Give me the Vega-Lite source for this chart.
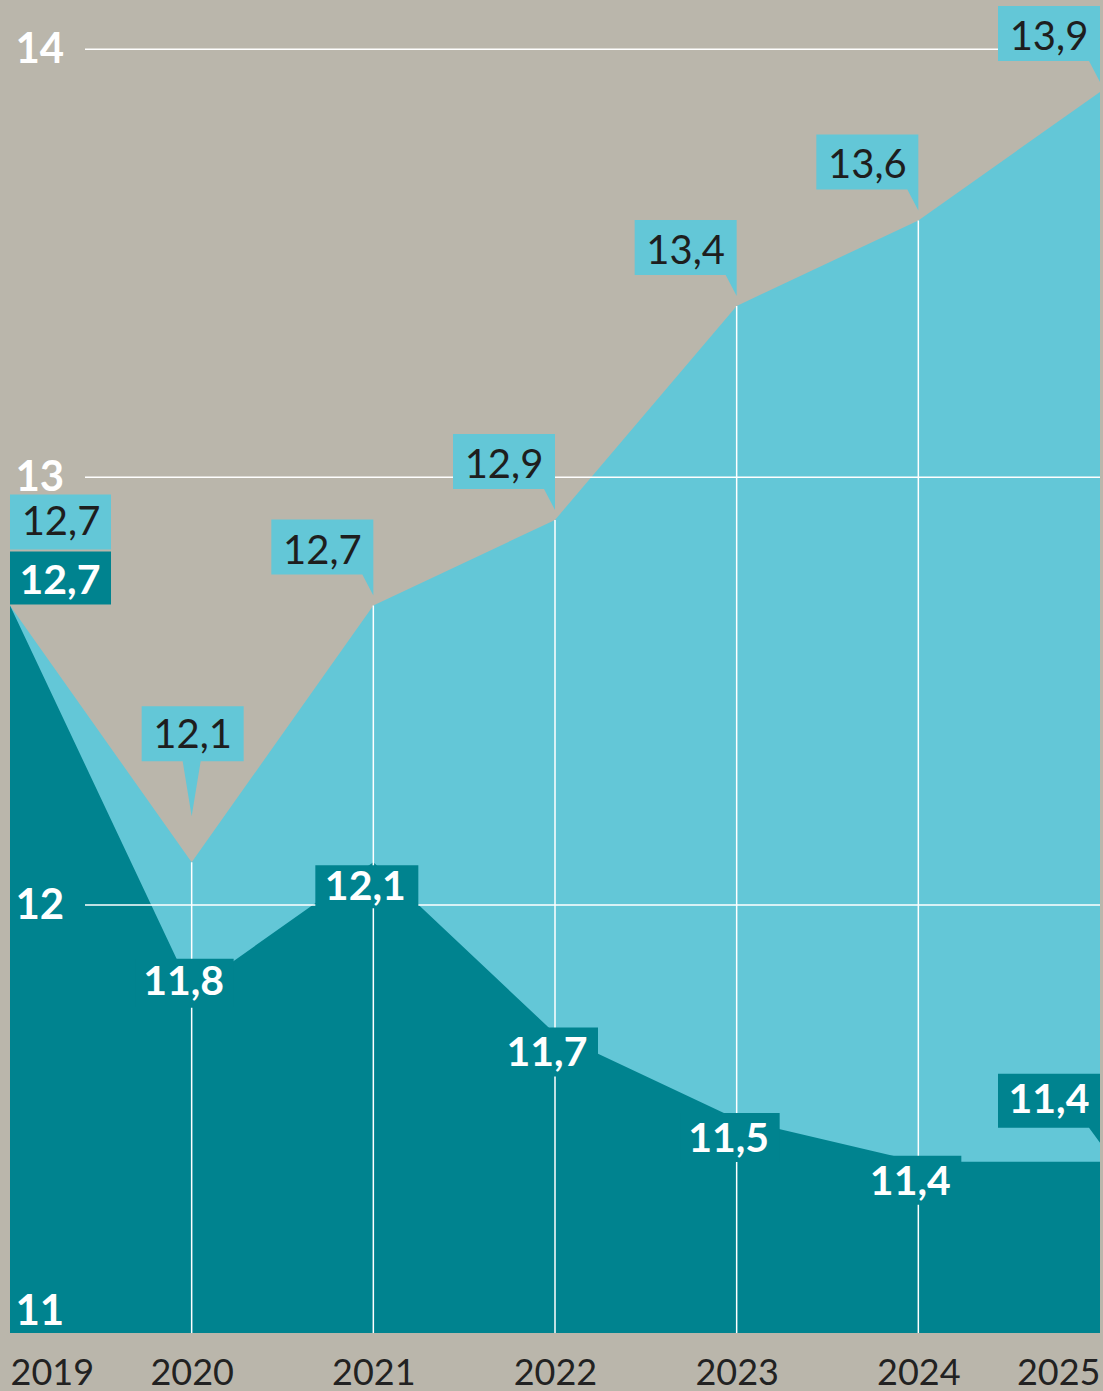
{
  "$schema": "https://vega.github.io/schema/vega-lite/v6.json",
  "width": 1090,
  "height": 1333,
  "autosize": {"type": "none"},
  "padding": {"left": 10, "right": 3, "top": 0, "bottom": 58},
  "background": "#bab6ab",
  "config": {
    "view": {"stroke": null},
    "font": "Lato",
    "locale": {"number": {"decimal": ",", "thousands": ".", "grouping": [3], "currency": ["", " €"]}}
  },
  "datasets": {
    "werte": [
      {"jahr": 2019, "reihe": "oben", "wert": 12.7},
      {"jahr": 2020, "reihe": "oben", "wert": 12.1},
      {"jahr": 2021, "reihe": "oben", "wert": 12.7},
      {"jahr": 2022, "reihe": "oben", "wert": 12.9},
      {"jahr": 2023, "reihe": "oben", "wert": 13.4},
      {"jahr": 2024, "reihe": "oben", "wert": 13.6},
      {"jahr": 2025, "reihe": "oben", "wert": 13.9},
      {"jahr": 2019, "reihe": "unten", "wert": 12.7},
      {"jahr": 2020, "reihe": "unten", "wert": 11.8},
      {"jahr": 2021, "reihe": "unten", "wert": 12.1},
      {"jahr": 2022, "reihe": "unten", "wert": 11.7},
      {"jahr": 2023, "reihe": "unten", "wert": 11.5},
      {"jahr": 2024, "reihe": "unten", "wert": 11.4},
      {"jahr": 2025, "reihe": "unten", "wert": 11.4}
    ],
    "gitter": [{"stufe": 12}, {"stufe": 13}, {"stufe": 14}]
  },
  "layer": [
    {
      "data": {"name": "werte"},
      "encoding": {
        "x": {
          "field": "jahr", "type": "quantitative",
          "scale": {"domain": [2019, 2025], "nice": false, "zero": false},
          "axis": {
            "title": null, "domain": false, "ticks": false, "tickSize": 0, "grid": false,
            "labelFlush": true, "labelFont": "Lato", "labelFontSize": 36, "labelColor": "#222222",
            "labelPadding": 23, "values": [2019, 2020, 2021, 2022, 2023, 2024, 2025], "format": "d",
            "labelOverlap": false
          }
        },
        "y": {
          "field": "wert", "type": "quantitative",
          "scale": {"domain": [11, 14.115], "nice": false, "zero": false},
          "axis": {
            "title": null, "domain": false, "ticks": false, "tickSize": 0, "grid": false,
            "values": [11, 12, 13, 14], "format": "d", "labelAlign": "left", "labelPadding": -5,
            "labelFont": "Lato", "labelFontWeight": "bold", "labelFontSize": 42, "labelColor": "white",
            "labelBaseline": {"condition": {"test": "datum.value === 11", "value": "bottom"}, "value": "middle"},
            "labelOverlap": false, "labelFlush": false, "zindex": 1
          }
        }
      },
      "layer": [
        {
          "transform": [{"filter": "datum.reihe === 'oben'"}],
          "mark": {"type": "area", "color": "#63c7d7", "opacity": 1},
          "encoding": {"y2": {"datum": 11}}
        },
        {
          "transform": [{"filter": "datum.reihe === 'unten'"}],
          "mark": {"type": "area", "color": "#00838f", "opacity": 1},
          "encoding": {"y2": {"datum": 11}}
        }
      ]
    },
    {
      "data": {"name": "gitter"},
      "mark": {"type": "rule", "color": "#ffffff", "strokeWidth": 1.5, "xOffset": 75},
      "encoding": {
        "x": {"datum": 2019, "type": "quantitative"},
        "x2": {"datum": 2025},
        "y": {"field": "stufe", "type": "quantitative", "title": null, "axis": {"format": "d"}}
      }
    },
    {
      "data": {"name": "werte"},
      "encoding": {
        "x": {"field": "jahr", "type": "quantitative", "title": null, "axis": {"format": "d"}},
        "y": {"field": "wert", "type": "quantitative", "title": null, "axis": {"format": "d"}}
      },
      "layer": [
        {
          "transform": [{"filter": "datum.reihe === 'oben' && datum.jahr > 2019 && datum.jahr < 2025"}],
          "mark": {"type": "rule", "color": "white", "strokeWidth": 1.5},
          "encoding": {"y2": {"datum": 11}}
        },
        {
          "transform": [{"filter": "datum.reihe === 'oben' && datum.jahr === 2019"}],
          "layer": [
            {"mark": {"type": "point", "shape": "M0,-111H101V-56H0Z", "size": 4, "filled": true, "color": "#63c7d7", "opacity": 1, "strokeWidth": 0}},
            {"mark": {"type": "text", "font": "Lato", "fontSize": 40, "color": "#1e1e1e", "align": "center", "baseline": "alphabetic", "dx": 51, "dy": -71},
             "encoding": {"text": {"field": "wert", "type": "quantitative", "format": ".1f"}}}
          ]
        },
        {
          "transform": [{"filter": "datum.reihe === 'oben' && datum.jahr === 2020"}],
          "layer": [
            {"mark": {"type": "point", "shape": "M-50,-156H52V-101H9L0,-46L-9,-101H-50Z", "size": 4, "filled": true, "color": "#63c7d7", "opacity": 1, "strokeWidth": 0}},
            {"mark": {"type": "text", "font": "Lato", "fontSize": 40, "color": "#1e1e1e", "align": "center", "baseline": "alphabetic", "dx": 1, "dy": -114},
             "encoding": {"text": {"field": "wert", "type": "quantitative", "format": ".1f"}}}
          ]
        },
        {
          "transform": [{"filter": "datum.reihe === 'oben' && datum.jahr >= 2021"}],
          "layer": [
            {"mark": {"type": "point", "shape": "M-102,-86H0V-10L-11,-31H-102Z", "size": 4, "filled": true, "color": "#63c7d7", "opacity": 1, "strokeWidth": 0}},
            {"mark": {"type": "text", "font": "Lato", "fontSize": 40, "color": "#1e1e1e", "align": "center", "baseline": "alphabetic", "dx": -51, "dy": -42},
             "encoding": {"text": {"field": "wert", "type": "quantitative", "format": ".1f"}}}
          ]
        },
        {
          "transform": [{"filter": "datum.reihe === 'unten' && datum.jahr === 2019"}],
          "layer": [
            {"mark": {"type": "point", "shape": "M0,-54H101V-1H0Z", "size": 4, "filled": true, "color": "#00838f", "opacity": 1, "strokeWidth": 0}},
            {"mark": {"type": "text", "font": "Lato", "fontSize": 41, "fontWeight": "bold", "color": "white", "align": "center", "baseline": "alphabetic", "dx": 50, "dy": -12},
             "encoding": {"text": {"field": "wert", "type": "quantitative", "format": ".1f"}}}
          ]
        },
        {
          "transform": [{"filter": "datum.reihe === 'unten' && datum.jahr === 2020"}],
          "layer": [
            {"mark": {"type": "point", "shape": "M-56,-32H42V17H-56Z", "size": 4, "filled": true, "color": "#00838f", "opacity": 1, "strokeWidth": 0}},
            {"mark": {"type": "text", "font": "Lato", "fontSize": 41, "fontWeight": "bold", "color": "white", "align": "center", "baseline": "alphabetic", "dx": -8, "dy": 4},
             "encoding": {"text": {"field": "wert", "type": "quantitative", "format": ".1f"}}}
          ]
        },
        {
          "transform": [{"filter": "datum.reihe === 'unten' && datum.jahr === 2021"}],
          "layer": [
            {"mark": {"type": "point", "shape": "M-58,3H45V46H-58Z", "size": 4, "filled": true, "color": "#00838f", "opacity": 1, "strokeWidth": 0}},
            {"mark": {"type": "text", "font": "Lato", "fontSize": 41, "fontWeight": "bold", "color": "white", "align": "center", "baseline": "alphabetic", "dx": -8, "dy": 38},
             "encoding": {"text": {"field": "wert", "type": "quantitative", "format": ".1f"}}}
          ]
        },
        {
          "transform": [{"filter": "datum.reihe === 'unten' && datum.jahr >= 2022 && datum.jahr <= 2024"}],
          "layer": [
            {"mark": {"type": "point", "shape": "M-56,-6H43V43H-56Z", "size": 4, "filled": true, "color": "#00838f", "opacity": 1, "strokeWidth": 0}},
            {"mark": {"type": "text", "font": "Lato", "fontSize": 41, "fontWeight": "bold", "color": "white", "align": "center", "baseline": "alphabetic", "dx": -8, "dy": 33},
             "encoding": {"text": {"field": "wert", "type": "quantitative", "format": ".1f"}}}
          ]
        },
        {
          "transform": [{"filter": "datum.reihe === 'unten' && datum.jahr === 2025"}],
          "layer": [
            {"mark": {"type": "point", "shape": "M-102,-88H0V-19L-11,-34H-102Z", "size": 4, "filled": true, "color": "#00838f", "opacity": 1, "strokeWidth": 0}},
            {"mark": {"type": "text", "font": "Lato", "fontSize": 41, "fontWeight": "bold", "color": "white", "align": "center", "baseline": "alphabetic", "dx": -51, "dy": -49},
             "encoding": {"text": {"field": "wert", "type": "quantitative", "format": ".1f"}}}
          ]
        }
      ]
    }
  ]
}
